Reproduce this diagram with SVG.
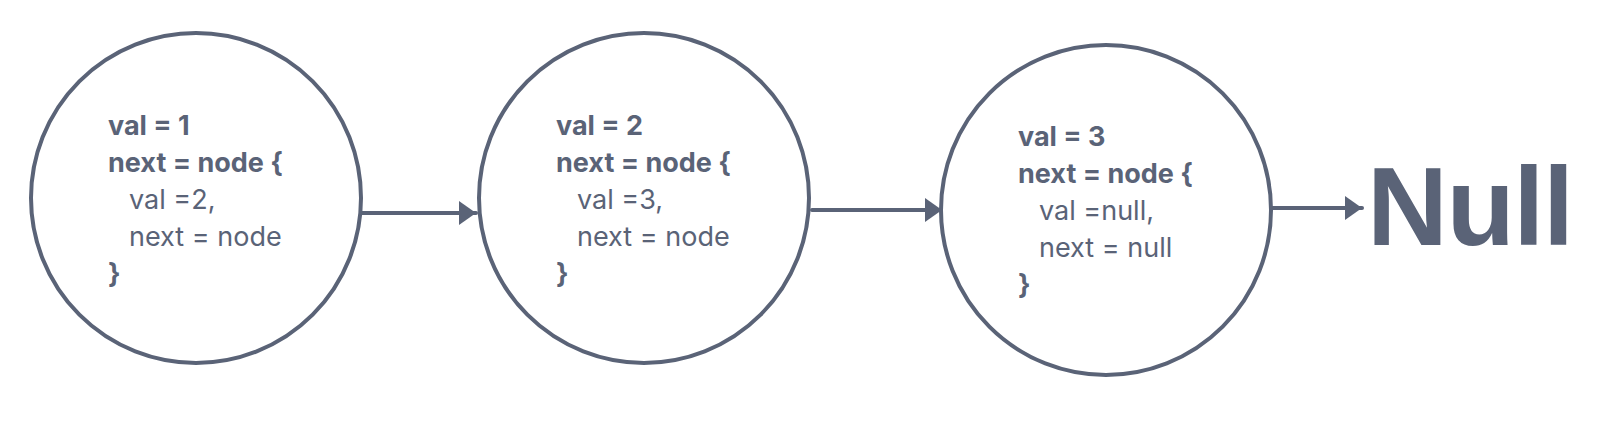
<svg xmlns="http://www.w3.org/2000/svg" width="1616" height="432" viewBox="0 0 1616 432">
<defs>
<style>
.node{fill:#ffffff;stroke:#5a6377;stroke-width:4}
.t{font-family:Inter,"Noto Sans",sans-serif;font-size:27px;fill:#5a6377}
.b{font-weight:700}
.edge{stroke:#5a6377;stroke-width:4;stroke-linecap:round;fill:none}
.null{font-family:"Liberation Sans",Arial,sans-serif;font-size:112px;font-weight:700;letter-spacing:-1.5px;fill:#5a6377}
</style>
<marker id="arr" viewBox="0 0 17 24" refX="17" refY="12" markerWidth="17" markerHeight="24" markerUnits="userSpaceOnUse" orient="auto">
<path d="M0,0 L17,12 L0,24 Z" fill="#5a6377"/>
</marker>
</defs>
<rect width="1616" height="432" fill="#ffffff"/>
<g id="connectors">
<line class="edge" x1="362" y1="213" x2="476" y2="213" marker-end="url(#arr)"/>
<line class="edge" x1="812" y1="210" x2="942" y2="210" marker-end="url(#arr)"/>
<line class="edge" x1="1272" y1="208" x2="1362" y2="208" marker-end="url(#arr)"/>
</g>
<g id="node1">
<circle class="node" cx="196" cy="198" r="165"/>
<text class="t b" x="108" y="135">val = 1</text>
<text class="t b" x="108" y="172">next = node {</text>
<text class="t" x="129" y="209">val =2,</text>
<text class="t" x="129" y="246">next = node</text>
<text class="t b" x="108" y="283">}</text>
</g>
<g id="node2">
<circle class="node" cx="644" cy="198" r="165"/>
<text class="t b" x="556" y="135">val = 2</text>
<text class="t b" x="556" y="172">next = node {</text>
<text class="t" x="577" y="209">val =3,</text>
<text class="t" x="577" y="246">next = node</text>
<text class="t b" x="556" y="283">}</text>
</g>
<g id="node3">
<circle class="node" cx="1106" cy="210" r="165"/>
<text class="t b" x="1018" y="146">val = 3</text>
<text class="t b" x="1018" y="183">next = node {</text>
<text class="t" x="1039" y="220">val =null,</text>
<text class="t" x="1039" y="257">next = null</text>
<text class="t b" x="1018" y="294">}</text>
</g>
<g id="null">
<text class="null" x="1367" y="245">Null</text>
</g>
</svg>
